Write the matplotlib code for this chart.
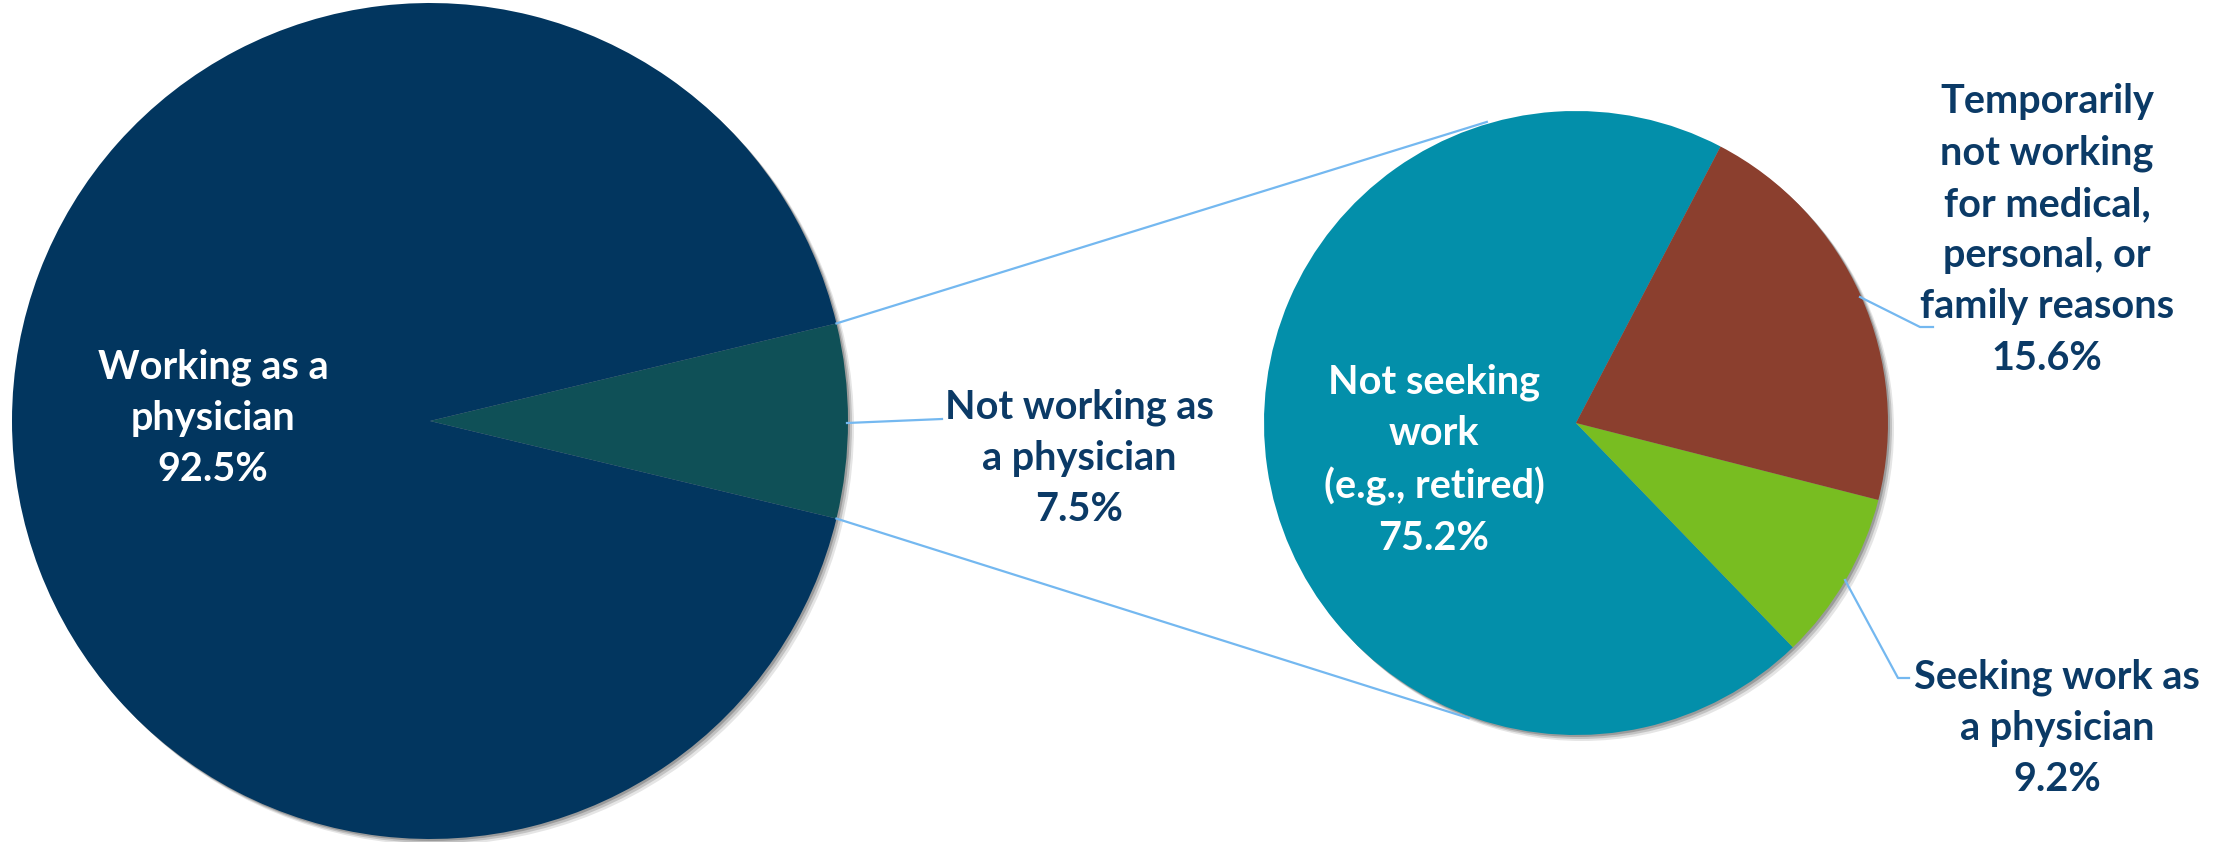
import numpy as np
import matplotlib
matplotlib.use("Agg")
import matplotlib.pyplot as plt
from matplotlib.patches import Circle

# ---------------- data ----------------
main_categories = ["Not working as\na physician", "Working as a\nphysician"]
main_values = [7.5, 92.5]

sub_categories = ["Not seeking\nwork\n(e.g., retired)", "Seeking work as\na physician",
                  "Temporarily\nnot working\nfor medical,\npersonal, or\nfamily reasons"]
sub_label_values = [75.2, 9.2, 15.6]      # percentages printed on the chart
sub_slice_sizes = [69.9, 8.8, 21.3]       # slice sizes as drawn in the picture

main_colors = ["#0F5057", "#02365F"]
sub_colors = ["#038FAA", "#78BD21", "#8B3F2E"]
TEXT = "#0B3A66"
LINE = "#74B8F0"
FONT = ["Lato", "DejaVu Sans"]

W, H = 2230, 842
fig = plt.figure(figsize=(W / 100, H / 100), dpi=100)
ax = fig.add_axes([0, 0, 1, 1])

def Y(y):
    return H - y

# pie geometry
c1 = (430, Y(421)); r1 = 418
c2 = (1576, Y(423)); r2 = 312

def shadow(c, r):
    for k, a in zip([7, 5, 3], [0.10, 0.15, 0.2]):
        ax.add_patch(Circle((c[0] + k - 1, c[1] - k + 1), r, color="black", alpha=a,
                            lw=0, zorder=1))

shadow(c1, r1)
shadow(c2, r2)

half = main_values[0] / sum(main_values) * 360 / 2
w1, _ = ax.pie(main_values, colors=main_colors, startangle=-half, center=c1, radius=r1,
               wedgeprops=dict(linewidth=0), frame=True)
w2, _ = ax.pie(sub_slice_sizes, colors=sub_colors, startangle=62.4, center=c2, radius=r2,
               wedgeprops=dict(linewidth=0), frame=True)
for w in w1:
    w.set_zorder(2)
for w in w2:
    w.set_zorder(4)
ax.set_xlim(0, W)
ax.set_ylim(0, H)
ax.set_aspect("auto")
ax.axis("off")

# series lines connecting the pies
def pt(c, r, ang):
    a = np.deg2rad(ang)
    return c[0] + r * np.cos(a), c[1] + r * np.sin(a)

p_top1 = pt(c1, r1, half); p_bot1 = pt(c1, r1, -half)
p_top2 = pt(c2, r2 + 2, 106.5); p_bot2 = pt(c2, r2 + 2, -110)
ax.plot([p_top1[0], p_top2[0]], [p_top1[1], p_top2[1]], color=LINE, lw=1.6, zorder=3)
ax.plot([p_bot1[0], p_bot2[0]], [p_bot1[1], p_bot2[1]], color=LINE, lw=1.6, zorder=3)

FS = 28.5
LS = 1.47

def label(x, y, text, color):
    ax.text(x, Y(y), text, ha="center", va="center", fontsize=FS, fontweight="bold",
            color=color, family=FONT, linespacing=LS, zorder=6)

# main pie labels
label(213, 418, f"{main_categories[1]}\n{main_values[1]:.1f}%", "white")
label(1079, 458, f"{main_categories[0]}\n{main_values[0]:.1f}%", TEXT)
ax.plot([847, 942], [Y(423), Y(419)], color=LINE, lw=1.6, zorder=5)

# sub pie labels
label(1434, 460, f"{sub_categories[0]}\n{sub_label_values[0]:.1f}%", "white")
label(2047, 230, f"{sub_categories[2]}\n{sub_label_values[2]:.1f}%", TEXT)
ax.plot([1860, 1920, 1933], [Y(297), Y(327), Y(327)], color=LINE, lw=1.6, zorder=5)
label(2057, 728, f"{sub_categories[1]}\n{sub_label_values[1]:.1f}%", TEXT)
ax.plot([1845, 1898, 1909], [Y(580), Y(678), Y(678)], color=LINE, lw=1.6, zorder=5)

fig.savefig("out.png", dpi=100)
